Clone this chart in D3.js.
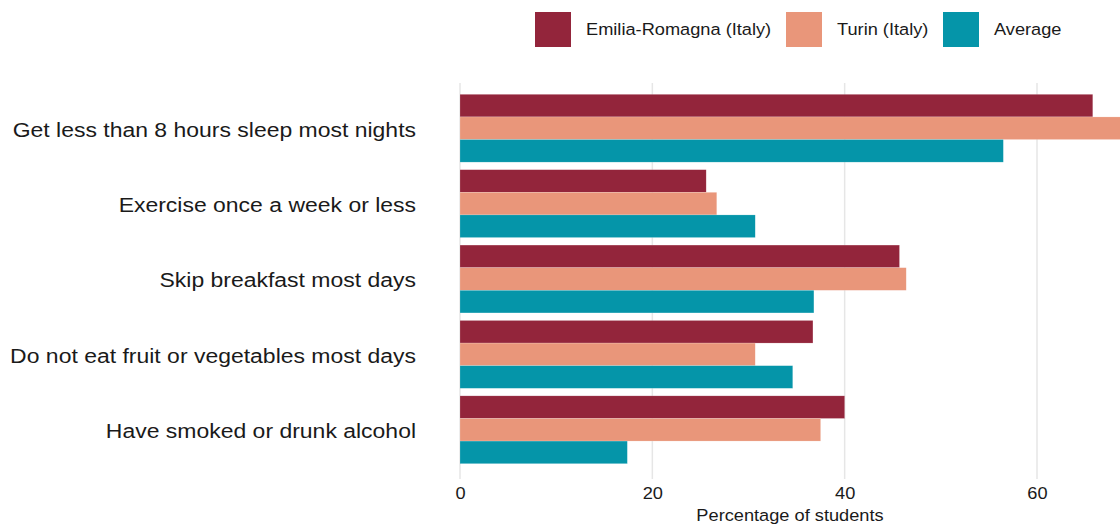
<!DOCTYPE html>
<html>
<head>
<meta charset="utf-8">
<script src="https://cdn.jsdelivr.net/npm/d3@7"></script>
<style>
  html, body { margin: 0; padding: 0; background: #fff; }
  svg { display: block; font-family: "Liberation Sans", Arial, sans-serif; }
</style>
</head>
<body>
<div id="vis"></div>
<script>
// categories, top to bottom
var categories = [
  "Get less than 8 hours sleep most nights",
  "Exercise once a week or less",
  "Skip breakfast most days",
  "Do not eat fruit or vegetables most days",
  "Have smoked or drunk alcohol"
];
var seriesNames = ["Emilia-Romagna (Italy)", "Turin (Italy)", "Average"];
var seriesColors = ["#93253b", "#e9967a", "#0595a9"];

var emiliaValues = [65.8, 25.6, 45.7, 36.7, 40.0];
var turinValues = [70.5, 26.7, 46.4, 30.7, 37.5];
var averageValues = [56.5, 30.7, 36.8, 34.6, 17.4];

var xTicks = [0, 20, 40, 60];
var xTitle = "Percentage of students";

var allValues = [emiliaValues, turinValues, averageValues];

var width = 1120, height = 524;
// the original text is a bit wider than its height suggests
var sx = 1.16;

var svg = d3.select("#vis")
    .append("svg")
    .attr("width", width)
    .attr("height", height);

var x = d3.scaleLinear()
    .domain([0, 60])
    .range([460, 1037]);

var y = d3.scaleBand()
    .domain(categories)
    .range([83, 475])
    .paddingInner(0.1)
    .paddingOuter(0.15);

var ySub = d3.scaleBand()
    .domain(seriesNames)
    .range([0, y.bandwidth()]);

// gridlines
svg.append("g")
    .selectAll("line")
    .data(xTicks)
    .enter()
    .append("line")
    .attr("x1", function (d) { return x(d); })
    .attr("x2", function (d) { return x(d); })
    .attr("y1", 83)
    .attr("y2", 479)
    .attr("stroke", "#e6e6e6")
    .attr("stroke-width", 1.5);

// bars
var rows = [];
categories.forEach(function (c, i) {
    seriesNames.forEach(function (s, j) {
        rows.push({ cat: c, series: s, value: allValues[j][i], color: seriesColors[j] });
    });
});

svg.append("g")
    .selectAll("rect")
    .data(rows)
    .enter()
    .append("rect")
    .attr("x", x(0))
    .attr("y", function (d) { return y(d.cat) + ySub(d.series); })
    .attr("width", function (d) { return x(d.value) - x(0); })
    .attr("height", ySub.bandwidth())
    .attr("fill", function (d) { return d.color; })
    .attr("stroke", "#ffffff")
    .attr("stroke-opacity", 0.35)
    .attr("stroke-width", 0.5);

// y axis labels
var yAxis = svg.append("g")
    .attr("transform", "translate(460,0)")
    .call(d3.axisLeft(y).tickSize(0).tickPadding(44));
yAxis.select("path.domain").remove();
yAxis.selectAll("text")
    .attr("x", -44 / sx)
    .attr("dy", "0.42em")
    .attr("transform", "scale(" + sx + ",1)")
    .attr("font-size", "19.8px")
    .attr("font-family", "Liberation Sans, Arial, sans-serif")
    .attr("fill", "#1a1a1a");

// x axis labels
var xAxis = svg.append("g")
    .attr("transform", "translate(0,479)")
    .call(d3.axisBottom(x).tickValues(xTicks).tickSize(0).tickPadding(9));
xAxis.select("path.domain").remove();
xAxis.selectAll("text")
    .attr("transform", "scale(" + sx + ",1)")
    .attr("font-size", "15.7px")
    .attr("font-family", "Liberation Sans, Arial, sans-serif")
    .attr("fill", "#1a1a1a");

svg.append("text")
    .attr("transform", "translate(" + ((x(0) + 1120) / 2) + ",521) scale(" + sx + ",1)")
    .attr("text-anchor", "middle")
    .attr("font-size", "15.7px")
    .attr("fill", "#1a1a1a")
    .text(xTitle);

// legend
var legendX = [535, 786, 943];
var legend = svg.append("g")
    .selectAll("g")
    .data(seriesNames)
    .enter()
    .append("g")
    .attr("transform", function (d, i) { return "translate(" + legendX[i] + ",12)"; });

legend.append("rect")
    .attr("width", 36)
    .attr("height", 35)
    .attr("fill", function (d, i) { return seriesColors[i]; });

legend.append("text")
    .attr("transform", "translate(51,18) scale(" + sx + ",1)")
    .attr("dy", "0.35em")
    .attr("font-size", "15.7px")
    .attr("fill", "#1a1a1a")
    .text(function (d) { return d; });
</script>
</body>
</html>
